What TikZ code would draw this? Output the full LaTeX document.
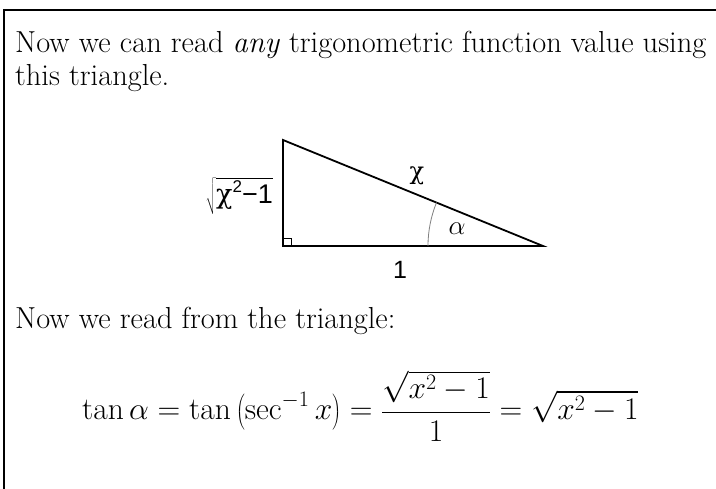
\RequirePackage{fix-cm}
\documentclass[tikz,border=0pt]{standalone}
\usepackage{fontspec}
\newfontfamily\labfont{Liberation Sans}
\newfontfamily\chifont{DejaVu Serif}
\usetikzlibrary{angles}
\begin{document}
\begin{tikzpicture}[x=1pt,y=-1pt,
  body/.style={anchor=base west, inner sep=0pt, font=\fontsize{30.4}{36}\selectfont},
  lab/.style={inner sep=0pt, font=\fontsize{25}{30}\labfont},
  side/.style={line width=1.8pt, line join=miter}]
\useasboundingbox (0,0) rectangle (716,489);
\coordinate (f1) at (4,489);
\coordinate (f2) at (4,10);
\coordinate (f3) at (716,10);
\draw[line width=1.3pt] (f1) -- (f2) -- (f3);
\node[body] (l1) at (15,53) {Now we can read \emph{any} trigonometric function value using};
\node[body] (l2) at (15,86) {this triangle.};
\coordinate (A) at (283,140);
\coordinate (B) at (283,246);
\coordinate (C) at (543,246);
\draw[side] (A) -- (B) -- (C) -- cycle;
\coordinate (r1) at (283,238);
\coordinate (r2) at (291,246);
\draw[line width=0.7pt] (r1) -| (r2);
\pic[draw=gray, line width=0.8pt, angle radius=115pt] {angle = A--C--B};
\node[inner sep=0pt, font=\fontsize{24}{28}\chifont] (hyp) at (417,176) {χ};
\node[lab] (base) at (400,270) {1};
\node[inner sep=0pt, font=\fontsize{27}{30}\selectfont] (al) at (457,229) {$\alpha$};
\node[lab, font=\fontsize{27}{30}\labfont, anchor=east] (opp) at (273,196) {$\sqrt{\rule[-9pt]{0pt}{30pt}\hbox{\chifont χ\raisebox{0.8ex}{\fontsize{17}{18}\labfont 2}\labfont −1}}$};
\node[body] (l3) at (15,329) {Now we read from the triangle:};
\node[body, font=\fontsize{31.5}{37}\selectfont] (eq) at (82,420) {$\displaystyle \tan\alpha = \tan\left(\sec^{-1} x\right) = \frac{\sqrt{x^2-1}}{1} = \sqrt{x^2-1}$};
\end{tikzpicture}
\end{document}
